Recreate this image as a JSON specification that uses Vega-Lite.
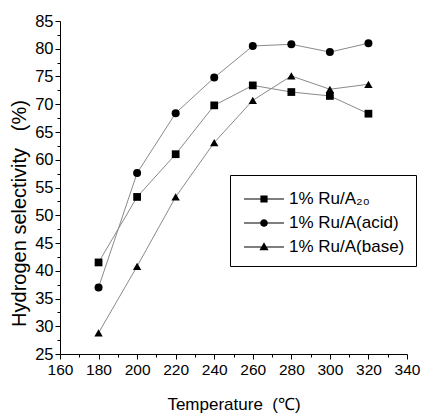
{
  "$schema": "https://vega.github.io/schema/vega-lite/v6.json",
  "width": 347,
  "height": 333,
  "autosize": "none",
  "padding": {"left": 60, "top": 21, "right": 17, "bottom": 63},
  "background": "white",
  "config": {
    "view": {"stroke": null},
    "font": "Liberation Sans",
    "axis": {
      "grid": false,
      "domainColor": "black",
      "tickColor": "black",
      "labelColor": "black",
      "titleColor": "black",
      "labelFont": "Liberation Sans",
      "titleFont": "Liberation Sans",
      "titleFontWeight": "normal",
      "labelOverlap": false,
      "labelFlush": false
    }
  },
  "data": {
    "values": [
      {"T": 180, "S": 41.5, "series": "1% Ru/A₂₀"},
      {"T": 200, "S": 53.3, "series": "1% Ru/A₂₀"},
      {"T": 220, "S": 61.0, "series": "1% Ru/A₂₀"},
      {"T": 240, "S": 69.8, "series": "1% Ru/A₂₀"},
      {"T": 260, "S": 73.4, "series": "1% Ru/A₂₀"},
      {"T": 280, "S": 72.2, "series": "1% Ru/A₂₀"},
      {"T": 300, "S": 71.5, "series": "1% Ru/A₂₀"},
      {"T": 320, "S": 68.3, "series": "1% Ru/A₂₀"},
      {"T": 180, "S": 37.0, "series": "1% Ru/A(acid)"},
      {"T": 200, "S": 57.6, "series": "1% Ru/A(acid)"},
      {"T": 220, "S": 68.4, "series": "1% Ru/A(acid)"},
      {"T": 240, "S": 74.8, "series": "1% Ru/A(acid)"},
      {"T": 260, "S": 80.5, "series": "1% Ru/A(acid)"},
      {"T": 280, "S": 80.8, "series": "1% Ru/A(acid)"},
      {"T": 300, "S": 79.4, "series": "1% Ru/A(acid)"},
      {"T": 320, "S": 81.0, "series": "1% Ru/A(acid)"},
      {"T": 180, "S": 28.8, "series": "1% Ru/A(base)"},
      {"T": 200, "S": 40.8, "series": "1% Ru/A(base)"},
      {"T": 220, "S": 53.3, "series": "1% Ru/A(base)"},
      {"T": 240, "S": 63.1, "series": "1% Ru/A(base)"},
      {"T": 260, "S": 70.7, "series": "1% Ru/A(base)"},
      {"T": 280, "S": 75.1, "series": "1% Ru/A(base)"},
      {"T": 300, "S": 72.7, "series": "1% Ru/A(base)"},
      {"T": 320, "S": 73.6, "series": "1% Ru/A(base)"}
    ]
  },
  "encoding": {
    "x": {
      "field": "T",
      "type": "quantitative",
      "scale": {"domain": [160, 340], "nice": false, "zero": false},
      "axis": {
        "title": "Temperature\u00a0 (℃)",
        "values": [160, 170, 180, 190, 200, 210, 220, 230, 240, 250, 260, 270, 280, 290, 300, 310, 320, 330, 340],
        "labelExpr": "datum.value % 20 === 0 ? datum.label : ''",
        "tickSize": {"condition": {"test": "datum.value % 20 === 0", "value": 5}, "value": 3},
        "labelFontSize": 15.5,
        "labelPadding": 3,
        "titleFontSize": 17,
        "titlePadding": 19
      }
    },
    "y": {
      "field": "S",
      "type": "quantitative",
      "scale": {"domain": [25, 85], "nice": false, "zero": false},
      "axis": {
        "title": "Hydrogen selectivity\u00a0\u00a0 (%)",
        "values": [25, 27.5, 30, 32.5, 35, 37.5, 40, 42.5, 45, 47.5, 50, 52.5, 55, 57.5, 60, 62.5, 65, 67.5, 70, 72.5, 75, 77.5, 80, 82.5, 85],
        "labelExpr": "datum.value % 5 === 0 ? datum.label : ''",
        "tickSize": {"condition": {"test": "datum.value % 5 === 0", "value": 5}, "value": 3},
        "labelFontSize": 16.5,
        "labelPadding": 2,
        "titleFontSize": 20,
        "titlePadding": 5,
        "titleY": 192
      }
    }
  },
  "layer": [
    {
      "mark": {"type": "line", "stroke": "#8a8a8a", "strokeWidth": 1},
      "encoding": {"detail": {"field": "series"}}
    },
    {
      "transform": [{"filter": "datum.series === '1% Ru/A₂₀'"}],
      "mark": {"type": "point", "shape": "square", "filled": true, "color": "black", "opacity": 1, "size": 60}
    },
    {
      "transform": [{"filter": "datum.series === '1% Ru/A(acid)'"}],
      "mark": {"type": "point", "shape": "circle", "filled": true, "color": "black", "opacity": 1, "size": 64}
    },
    {
      "transform": [{"filter": "datum.series === '1% Ru/A(base)'"}],
      "mark": {"type": "point", "shape": "triangle-up", "filled": true, "color": "black", "opacity": 1, "size": 70}
    },
    {
      "mark": {"type": "point", "filled": true, "color": "black", "opacity": 0},
      "encoding": {
        "shape": {
          "field": "series",
          "scale": {
            "domain": ["1% Ru/A₂₀", "1% Ru/A(acid)", "1% Ru/A(base)"],
            "range": [
              "M-1.67,-0.035L1.67,-0.035L1.67,0.035L-1.67,0.035ZM-0.3,-0.3L0.3,-0.3L0.3,0.3L-0.3,0.3Z",
              "M-1.67,-0.035L1.67,-0.035L1.67,0.035L-1.67,0.035ZM0.32,0A0.32,0.32,0,1,1,-0.32,0A0.32,0.32,0,1,1,0.32,0Z",
              "M-1.67,-0.035L1.67,-0.035L1.67,0.035L-1.67,0.035ZM0,-0.4L0.38,0.28L-0.38,0.28Z"
            ]
          },
          "legend": {
            "title": null,
            "orient": "none",
            "legendX": 170,
            "legendY": 154,
            "symbolSize": 576,
            "symbolFillColor": "black",
            "symbolOpacity": 1,
            "symbolOffset": 10,
            "labelOffset": 12,
            "labelFont": "Liberation Sans",
            "labelFontSize": 17,
            "labelColor": "black",
            "labelLimit": 300,
            "padding": 11,
            "rowPadding": 3,
            "strokeColor": "black",
            "fillColor": "white",
            "cornerRadius": 0
          }
        }
      }
    }
  ]
}
